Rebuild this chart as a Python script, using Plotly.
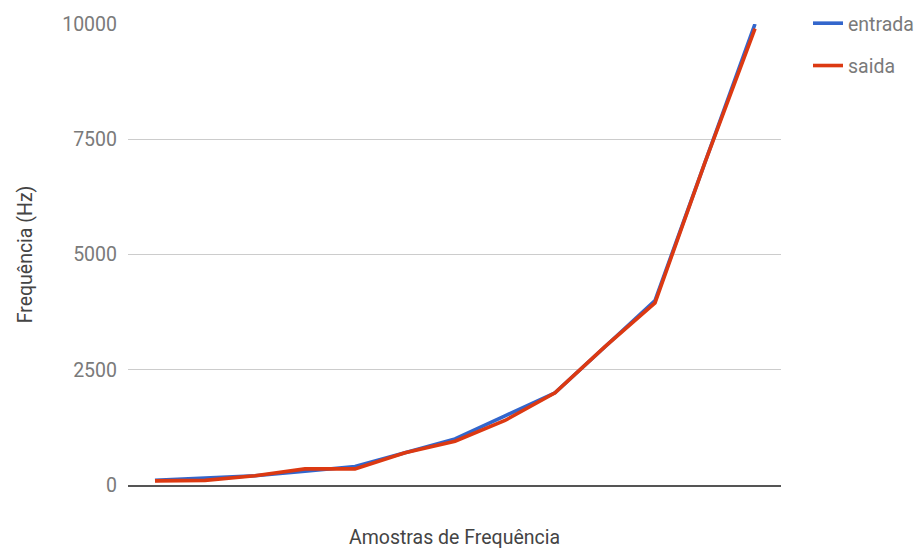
import plotly.graph_objects as go

# Frequency samples (unlabelled categories on the x axis)
amostras = list(range(13))
entrada = [100, 150, 200, 300, 400, 700, 1000, 1500, 2000, 3000, 4000, 7000, 10000]
saida = [90, 100, 200, 350, 350, 700, 950, 1400, 2000, 3000, 3950, 7000, 9900]
y_ticks = [0, 2500, 5000, 7500, 10000]

FONT = "Roboto"
FS = 19.5
TICK_GREY = "#7a7a7a"
TITLE_GREY = "#444444"

fig = go.Figure()
fig.add_trace(go.Scatter(
    x=amostras, y=entrada, mode="lines", name="entrada",
    legendgroup="entrada",
    line=dict(color="#3366cc", width=3.6),
))
fig.add_trace(go.Scatter(
    x=amostras, y=saida, mode="lines", name="saida",
    legendgroup="saida",
    line=dict(color="#dc3912", width=3.6),
))

fig.update_layout(
    width=918, height=549,
    margin=dict(l=128, r=137, t=24, b=64, autoexpand=False),
    paper_bgcolor="white", plot_bgcolor="white",
    font=dict(family=FONT, size=FS, color=TICK_GREY),
    showlegend=True,
    legend=dict(
        xref="container", yref="container",
        x=808 / 918, y=1 - 4 / 549, xanchor="left", yanchor="top",
        font=dict(family=FONT, size=FS, color=TICK_GREY),
        tracegroupgap=14, itemwidth=30,
        bgcolor="rgba(0,0,0,0)",
    ),
    xaxis=dict(
        range=[-0.54, 12.52], automargin=False,
        showticklabels=False, showgrid=False, zeroline=False,
        showline=True, linecolor="#555555", linewidth=1.5,
        ticks="",
        title=dict(text="Amostras de Frequência", standoff=46,
                   font=dict(family=FONT, size=FS, color=TITLE_GREY)),
    ),
    yaxis=dict(
        range=[0, 10000], automargin=False,
        tickvals=y_ticks, ticktext=[str(v) for v in y_ticks],
        showgrid=True, gridcolor="#cccccc", gridwidth=1,
        zeroline=False, showline=False, ticks="",
        ticklabelstandoff=10,
        tickfont=dict(family=FONT, size=FS, color=TICK_GREY),
        title=dict(text="Frequência (Hz)", standoff=24,
                   font=dict(family=FONT, size=FS, color=TITLE_GREY)),
    ),
)

fig.write_html("out.html")
